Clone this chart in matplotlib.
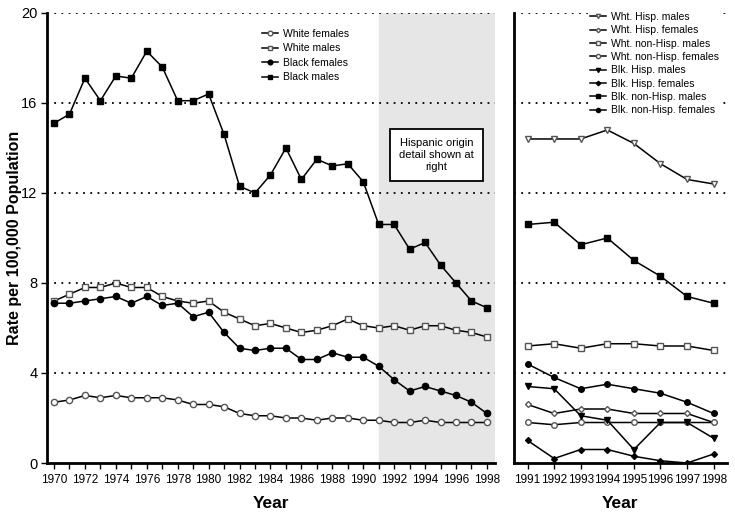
import matplotlib
matplotlib.use("Agg")
import matplotlib.pyplot as plt

plt.rcParams['font.family'] = ['Liberation Sans', 'DejaVu Sans']

# all races, 1970-1998
years = list(range(1970, 1999))
white_females = [2.7, 2.8, 3.0, 2.9, 3.0, 2.9, 2.9, 2.9, 2.8, 2.6, 2.6, 2.5, 2.2, 2.1, 2.1,
                 2.0, 2.0, 1.9, 2.0, 2.0, 1.9, 1.9, 1.8, 1.8, 1.9, 1.8, 1.8, 1.8, 1.8]
white_males = [7.2, 7.5, 7.8, 7.8, 8.0, 7.8, 7.8, 7.4, 7.2, 7.1, 7.2, 6.7, 6.4, 6.1, 6.2,
               6.0, 5.8, 5.9, 6.1, 6.4, 6.1, 6.0, 6.1, 5.9, 6.1, 6.1, 5.9, 5.8, 5.6]
black_females = [7.1, 7.1, 7.2, 7.3, 7.4, 7.1, 7.4, 7.0, 7.1, 6.5, 6.7, 5.8, 5.1, 5.0, 5.1,
                 5.1, 4.6, 4.6, 4.9, 4.7, 4.7, 4.3, 3.7, 3.2, 3.4, 3.2, 3.0, 2.7, 2.2]
black_males = [15.1, 15.5, 17.1, 16.1, 17.2, 17.1, 18.3, 17.6, 16.1, 16.1, 16.4, 14.6, 12.3, 12.0, 12.8,
               14.0, 12.6, 13.5, 13.2, 13.3, 12.5, 10.6, 10.6, 9.5, 9.8, 8.8, 8.0, 7.2, 6.9]

# hispanic origin detail, 1991-1998
years_h = list(range(1991, 1999))
wht_hisp_m = [14.4, 14.4, 14.4, 14.8, 14.2, 13.3, 12.6, 12.4]
wht_hisp_f = [2.6, 2.2, 2.4, 2.4, 2.2, 2.2, 2.2, 1.8]
wht_nonhisp_m = [5.2, 5.3, 5.1, 5.3, 5.3, 5.2, 5.2, 5.0]
wht_nonhisp_f = [1.8, 1.7, 1.8, 1.8, 1.8, 1.8, 1.8, 1.8]
blk_hisp_m = [3.4, 3.3, 2.1, 1.9, 0.6, 1.8, 1.8, 1.1]
blk_hisp_f = [1.0, 0.2, 0.6, 0.6, 0.3, 0.1, 0.0, 0.4]
blk_nonhisp_m = [10.6, 10.7, 9.7, 10.0, 9.0, 8.3, 7.4, 7.1]
blk_nonhisp_f = [4.4, 3.8, 3.3, 3.5, 3.3, 3.1, 2.7, 2.2]

yticks = [0, 4, 8, 12, 16, 20]

fig = plt.figure(figsize=(7.35, 5.12), dpi=100)
ax1 = fig.add_axes([0.064, 0.0957, 0.609, 0.879])
ax2 = fig.add_axes([0.699, 0.0957, 0.290, 0.879])

def style_axes(ax):
    for s in ['top', 'right']:
        ax.spines[s].set_visible(False)
    ax.spines['left'].set_linewidth(2)
    ax.spines['bottom'].set_linewidth(2)
    ax.set_ylim(0, 20)
    for y in yticks[1:]:
        ax.axhline(y, color='black', linestyle=(0, (1, 3)), lw=1.3, zorder=1)
    ax.set_xlabel('Year', fontsize=12.5, fontweight='bold', labelpad=7)

lw = 1.1
ms = 4.5
gray = '#555555'

# left panel
ax1.axvspan(1991, 1998.5, color='#e6e6e6', zorder=0)
style_axes(ax1)
ax1.plot(years, white_females, '-', color='black', lw=lw, marker='o', ms=ms,
         mfc='white', mec=gray, label='White females', zorder=3)
ax1.plot(years, white_males, '-', color='black', lw=lw, marker='s', ms=ms,
         mfc='white', mec=gray, label='White males', zorder=3)
ax1.plot(years, black_females, '-', color='black', lw=lw, marker='o', ms=ms,
         mfc='black', mec='black', label='Black females', zorder=3)
ax1.plot(years, black_males, '-', color='black', lw=lw, marker='s', ms=ms,
         mfc='black', mec='black', label='Black males', zorder=3)
ax1.set_xlim(1969.55, 1998.5)
ax1.set_xticks(years, minor=True)
ax1.set_xticks(list(range(1970, 1999, 2)))
ax1.tick_params(axis='x', which='both', length=4, width=1, labelsize=8.5, pad=4)
ax1.set_yticks(yticks)
ax1.tick_params(axis='y', length=4, width=1, labelsize=10.5, pad=3)
ax1.set_ylabel('Rate per 100,000 Population', fontsize=11.5, fontweight='bold')
ax1.yaxis.set_label_coords(-0.057, 0.5)
ax1.legend(loc='upper left', bbox_to_anchor=(0.46, 0.985), frameon=False, fontsize=7.5,
           handlelength=1.5, handletextpad=0.5, labelspacing=0.42, markerscale=0.75)
ax1.text(1994.75, 13.7, 'Hispanic origin\ndetail shown at\nright', ha='center', va='center',
         fontsize=8, linespacing=1.25,
         bbox=dict(boxstyle='square,pad=0.8', fc='white', ec='black', lw=1.3), zorder=4)

# right panel
style_axes(ax2)
ms2 = 4
ax2.plot(years_h, wht_hisp_m, '-', color='black', lw=lw, marker='v', ms=ms2,
         mfc='white', mec=gray, label='Wht. Hisp. males', zorder=3)
ax2.plot(years_h, wht_hisp_f, '-', color='black', lw=lw, marker='D', ms=3,
         mfc='white', mec=gray, label='Wht. Hisp. females', zorder=3)
ax2.plot(years_h, wht_nonhisp_m, '-', color='black', lw=lw, marker='s', ms=ms2,
         mfc='white', mec=gray, label='Wht. non-Hisp. males', zorder=3)
ax2.plot(years_h, wht_nonhisp_f, '-', color='black', lw=lw, marker='o', ms=ms2,
         mfc='white', mec=gray, label='Wht. non-Hisp. females', zorder=3)
ax2.plot(years_h, blk_hisp_m, '-', color='black', lw=lw, marker='v', ms=ms2,
         mfc='black', mec='black', label='Blk. Hisp. males', zorder=3)
ax2.plot(years_h, blk_hisp_f, '-', color='black', lw=lw, marker='D', ms=3,
         mfc='black', mec='black', label='Blk. Hisp. females', zorder=3)
ax2.plot(years_h, blk_nonhisp_m, '-', color='black', lw=lw, marker='s', ms=ms2,
         mfc='black', mec='black', label='Blk. non-Hisp. males', zorder=3)
ax2.plot(years_h, blk_nonhisp_f, '-', color='black', lw=lw, marker='o', ms=ms2,
         mfc='black', mec='black', label='Blk. non-Hisp. females', zorder=3)
ax2.set_xlim(1990.48, 1998.5)
ax2.set_xticks(years_h)
ax2.tick_params(axis='x', length=4, width=1, labelsize=8.5, pad=4)
ax2.set_yticks([])
leg = ax2.legend(loc='upper left', bbox_to_anchor=(0.323, 1.018), frameon=True, fontsize=7.5,
                 handlelength=1.5, handletextpad=0.5, labelspacing=0.32, markerscale=0.75,
                 borderpad=0.2, fancybox=False)
leg.get_frame().set_edgecolor('none')
leg.get_frame().set_facecolor('white')
leg.get_frame().set_alpha(1)
leg.set_zorder(5)

fig.savefig('out.png', dpi=100)
